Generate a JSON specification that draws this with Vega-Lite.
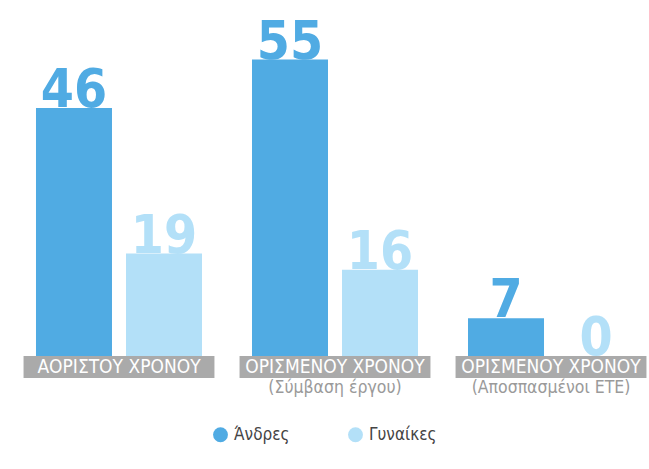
{
  "$schema": "https://vega.github.io/schema/vega-lite/v6.json",
  "width": 649,
  "height": 469,
  "autosize": {"type": "none"},
  "padding": 0,
  "background": "white",
  "config": {"view": {"stroke": null}},
  "datasets": {
    "bars": [
      {"cat": "ΑΟΡΙΣΤΟΥ ΧΡΟΝΟΥ", "group": "Άνδρες", "value": 46},
      {"cat": "ΑΟΡΙΣΤΟΥ ΧΡΟΝΟΥ", "group": "Γυναίκες", "value": 19},
      {"cat": "ΟΡΙΣΜΕΝΟΥ ΧΡΟΝΟΥ (Σύμβαση έργου)", "group": "Άνδρες", "value": 55},
      {"cat": "ΟΡΙΣΜΕΝΟΥ ΧΡΟΝΟΥ (Σύμβαση έργου)", "group": "Γυναίκες", "value": 16},
      {"cat": "ΟΡΙΣΜΕΝΟΥ ΧΡΟΝΟΥ (Αποσπασμένοι ΕΤΕ)", "group": "Άνδρες", "value": 7},
      {"cat": "ΟΡΙΣΜΕΝΟΥ ΧΡΟΝΟΥ (Αποσπασμένοι ΕΤΕ)", "group": "Γυναίκες", "value": 0}
    ],
    "cats": [
      {"cat": "ΑΟΡΙΣΤΟΥ ΧΡΟΝΟΥ", "title": "ΑΟΡΙΣΤΟΥ ΧΡΟΝΟΥ", "subtitle": ""},
      {"cat": "ΟΡΙΣΜΕΝΟΥ ΧΡΟΝΟΥ (Σύμβαση έργου)", "title": "ΟΡΙΣΜΕΝΟΥ ΧΡΟΝΟΥ", "subtitle": "(Σύμβαση έργου)"},
      {"cat": "ΟΡΙΣΜΕΝΟΥ ΧΡΟΝΟΥ (Αποσπασμένοι ΕΤΕ)", "title": "ΟΡΙΣΜΕΝΟΥ ΧΡΟΝΟΥ", "subtitle": "(Αποσπασμένοι ΕΤΕ)"}
    ]
  },
  "encoding": {
    "x": {
      "field": "cat",
      "type": "nominal",
      "sort": null,
      "axis": null,
      "scale": {
        "domain": ["ΑΟΡΙΣΤΟΥ ΧΡΟΝΟΥ", "ΟΡΙΣΜΕΝΟΥ ΧΡΟΝΟΥ (Σύμβαση έργου)", "ΟΡΙΣΜΕΝΟΥ ΧΡΟΝΟΥ (Αποσπασμένοι ΕΤΕ)"],
        "paddingInner": 0.2315,
        "paddingOuter": 0.118,
        "align": 0.706
      }
    }
  },
  "layer": [
    {
      "data": {"name": "cats"},
      "mark": {"type": "bar", "width": {"band": 1.15}, "color": "#aaaaaa"},
      "encoding": {
        "y": {"datum": 0, "type": "quantitative", "axis": null, "scale": {"domain": [-20.96, 66.05], "nice": false, "zero": false}},
        "y2": {"datum": -4.08}
      }
    },
    {
      "data": {"name": "cats"},
      "mark": {"type": "text", "color": "white", "font": "DejaVu Sans Condensed, sans-serif", "fontSize": 19, "baseline": "middle", "align": "center"},
      "encoding": {
        "y": {"datum": -2.0, "type": "quantitative"},
        "text": {"field": "title"}
      }
    },
    {
      "data": {"name": "cats"},
      "mark": {"type": "text", "color": "#9a9a9a", "font": "DejaVu Sans Condensed, sans-serif", "fontSize": 17.5, "baseline": "middle", "align": "center"},
      "encoding": {
        "y": {"datum": -5.94, "type": "quantitative"},
        "text": {"field": "subtitle"}
      }
    },
    {
      "data": {"name": "bars"},
      "mark": {"type": "bar"},
      "encoding": {
        "xOffset": {"field": "group", "type": "nominal", "scale": {"domain": ["Άνδρες", "Γυναίκες"], "paddingInner": 0.1556, "paddingOuter": 0}},
        "y": {"field": "value", "type": "quantitative"},
        "color": {
          "field": "group",
          "type": "nominal",
          "scale": {"domain": ["Άνδρες", "Γυναίκες"], "range": ["#50abe3", "#b3e0f8"]},
          "legend": {
            "title": null,
            "orient": "none",
            "legendX": 212,
            "legendY": 426,
            "direction": "horizontal",
            "symbolType": "circle",
            "symbolSize": 220,
            "symbolStrokeWidth": 0,
            "symbolOpacity": 1,
            "labelFont": "DejaVu Sans Condensed, sans-serif",
            "labelFontSize": 17,
            "labelColor": "#444444",
            "labelOffset": 5,
            "columnPadding": 57
          }
        }
      }
    },
    {
      "data": {"name": "bars"},
      "mark": {"type": "text", "font": "DejaVu Sans Condensed, sans-serif", "fontWeight": "bold", "fontSize": 53, "baseline": "alphabetic", "align": "center", "dy": -1},
      "encoding": {
        "xOffset": {"field": "group", "type": "nominal", "scale": {"domain": ["Άνδρες", "Γυναίκες"], "paddingInner": 0.1556, "paddingOuter": 0}},
        "y": {"field": "value", "type": "quantitative"},
        "text": {"field": "value", "type": "quantitative"},
        "color": {"field": "group", "type": "nominal", "legend": null}
      }
    }
  ]
}
